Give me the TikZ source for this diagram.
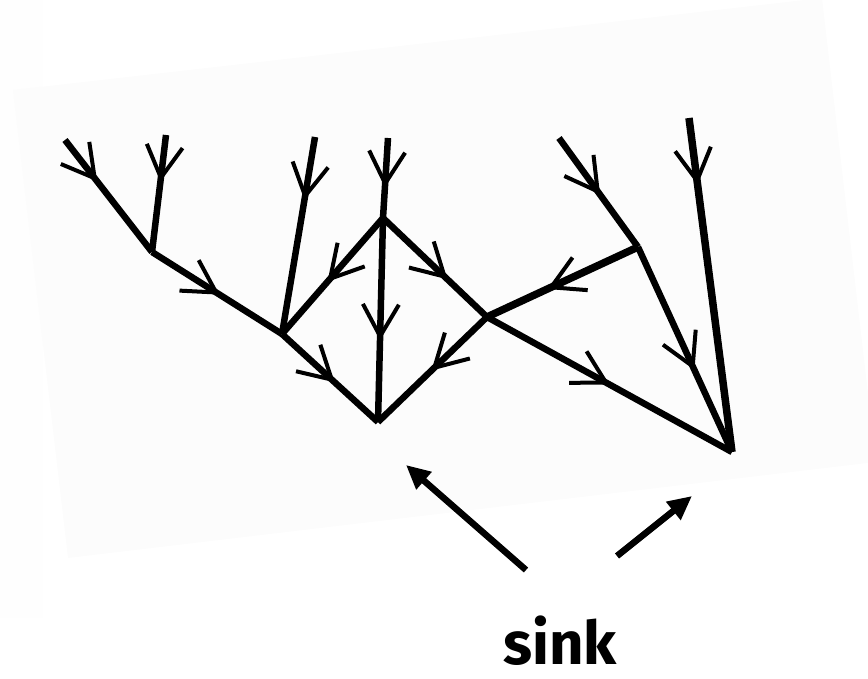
\documentclass[tikz,border=0pt]{standalone}
\usepackage{fontspec}
\setmainfont{Fira Sans}
\usepackage{tikz}
\usetikzlibrary{arrows.meta, decorations.markings}

\begin{document}
\begin{tikzpicture}[
    x=1pt, y=-1pt,
    branch/.style={line width=6.5pt,
                   decoration={markings, mark=at position #1 with
                     {\arrow{Straight Barb[length=32pt, width=36pt, line width=4pt]}}},
                   postaction={decorate}},
    branch/.default=0.5,
    pointer/.style={-{Triangle[length=24pt, width=22pt]}, line width=6.5pt},
    tag/.style={font=\bfseries\fontsize{60}{60}\selectfont, inner sep=0pt, anchor=base}
]
\useasboundingbox (0,0) rectangle (868,679);

% Paper
\fill[black!0.5] (0,0) rectangle (43,618);
\fill[black!1] (13,90) -- (822,-2) -- (876,462) -- (68,558) -- cycle;

% Nodes
\coordinate (sinkA) at (378,422);
\coordinate (sinkB) at (732,452);
\coordinate (j1) at (152,252);
\coordinate (j2) at (282,334);
\coordinate (j3) at (383,218);
\coordinate (j4) at (487,317);
\coordinate (j5) at (638,247);
\coordinate (l1) at (65,140);
\coordinate (l2) at (166,135);
\coordinate (l3) at (315,137);
\coordinate (l4) at (388,138);
\coordinate (l5) at (559,138);
\coordinate (l6) at (689,118);

% Flow
\draw[branch=0.37] (l1) -- (j1);
\draw[branch=0.4] (l2) -- (j1);
\draw[branch=0.52] (j1) -- (j2);
\draw[branch=0.32] (l3) -- (j2);
\draw[branch=0.55] (j3) -- (j2);
\draw[branch=0.55] (j2) -- (sinkA);
\draw[branch=0.62] (l4) -- (j3);
\draw[branch=0.6] (j3) -- (sinkA);
\draw[branch=0.62] (j3) -- (j4);
\draw[branch=0.51] (j4) -- (sinkA);
\draw[branch=0.5] (j4) -- (sinkB);
\draw[branch=0.6, line width=7.5pt] (j5) -- (j4);
\draw[branch=0.52] (l5) -- (j5);
\draw[branch=0.6] (j5) -- (sinkB);
\draw[branch=0.2, line width=7.5pt] (l6) -- (sinkB);

% Label
\node[tag] (sink) at (560,664) {sink};
\coordinate (t1) at (526,570);
\coordinate (h1) at (406,465);
\coordinate (t2) at (617,556);
\coordinate (h2) at (692,496);
\draw[pointer] (t1) -- (h1);
\draw[pointer] (t2) -- (h2);

\end{tikzpicture}
\end{document}
